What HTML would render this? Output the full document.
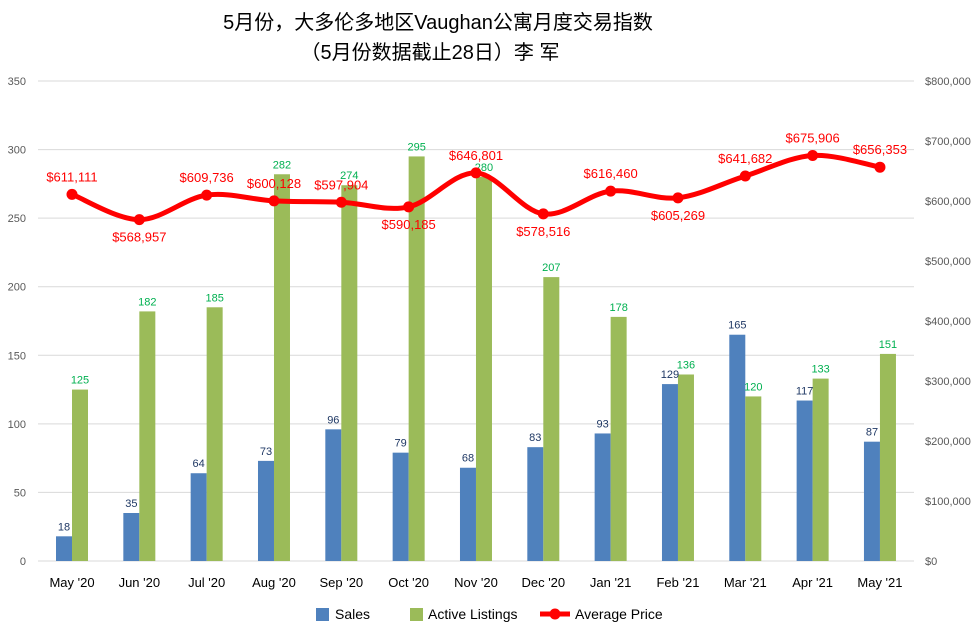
<!DOCTYPE html>
<html><head><meta charset="utf-8"><style>
body{margin:0;background:#fff;}
svg text{font-family:"Liberation Sans","Noto Sans CJK SC",sans-serif;}
</style></head><body>
<svg id="s" width="977" height="638" xmlns="http://www.w3.org/2000/svg">
<rect x="0" y="0" width="977" height="638" fill="#fff"/>
<text x="438" y="29" font-size="20" text-anchor="middle" fill="#000" style="font-family:'Liberation Sans','Noto Sans CJK SC',sans-serif">5月份，大多伦多地区Vaughan公寓月度交易指数</text>
<text x="430" y="59" font-size="20" text-anchor="middle" fill="#000" style="font-family:'Liberation Sans','Noto Sans CJK SC',sans-serif">（5月份数据截止28日）李 军</text>
<g id="g"></g>
</svg>
<script>
var g=document.getElementById('g'),h='';
var y0=561,k=480/350;
for(var i=0;i<=7;i++){var y=y0-i*50*k;h+='<line x1="38" x2="914" y1="'+y+'" y2="'+y+'" stroke="#d9d9d9" stroke-width="1"/>';
h+='<text x="26" y="'+(y+4)+'" font-size="11" text-anchor="end" fill="#595959">'+(i*50)+'</text>';}
for(var i=0;i<=8;i++){var y=y0-i*60;var v=i==0?'$0':'$'+(i*100)+',000';h+='<text x="925" y="'+(y+4)+'" font-size="11" fill="#595959">'+v+'</text>';}
var cats=["May '20","Jun '20","Jul '20","Aug '20","Sep '20","Oct '20","Nov '20","Dec '20","Jan '21","Feb '21","Mar '21","Apr '21","May '21"];
var s=[18,35,64,73,96,79,68,83,93,129,165,117,87];
var a=[125,182,185,282,274,295,280,207,178,136,120,133,151];
var p=[611111,568957,609736,600128,597904,590185,646801,578516,616460,605269,641682,675906,656353];
var pos=[1,0,1,1,1,0,1,0,1,0,1,1,1];
var st=67.33,cx0=72,pts=[];
for(var i=0;i<13;i++){var c=cx0+i*st;
var hs=s[i]*k,ha=a[i]*k;
h+='<rect x="'+(c-16)+'" y="'+(y0-hs)+'" width="16" height="'+hs+'" fill="#4f81bd"/>';
h+='<rect x="'+c+'" y="'+(y0-ha)+'" width="16" height="'+ha+'" fill="#9bbb59"/>';
h+='<text x="'+(c-8)+'" y="'+(y0-hs-6)+'" font-size="11" text-anchor="middle" fill="#1f3864">'+s[i]+'</text>';
h+='<text x="'+(c+8)+'" y="'+(y0-ha-6)+'" font-size="11" text-anchor="middle" fill="#00b050">'+a[i]+'</text>';
h+='<text x="'+c+'" y="587" font-size="13" text-anchor="middle" fill="#000">'+cats[i]+'</text>';
pts.push([c,y0-p[i]*0.0006]);}
var d='M'+pts[0][0]+','+pts[0][1];
for(var i=0;i<12;i++){var p0=pts[Math.max(i-1,0)],p1=pts[i],p2=pts[i+1],p3=pts[Math.min(i+2,12)];
d+=' C'+(p1[0]+(p2[0]-p0[0])/6)+','+(p1[1]+(p2[1]-p0[1])/6)+' '+(p2[0]-(p3[0]-p1[0])/6)+','+(p2[1]-(p3[1]-p1[1])/6)+' '+p2[0]+','+p2[1];}
h+='<path d="'+d+'" fill="none" stroke="#ff0000" stroke-width="5"/>';
for(var i=0;i<13;i++){h+='<circle cx="'+pts[i][0]+'" cy="'+pts[i][1]+'" r="5.5" fill="#ff0000"/>';
var ty=pos[i]?pts[i][1]-13:pts[i][1]+22;
h+='<text x="'+pts[i][0]+'" y="'+ty+'" font-size="13" text-anchor="middle" fill="#ff0000">$'+p[i].toLocaleString('en-US')+'</text>';}
h+='<rect x="316" y="608" width="13" height="13" fill="#4f81bd"/><text x="335" y="619" font-size="14" fill="#000">Sales</text>';
h+='<rect x="410" y="608" width="13" height="13" fill="#9bbb59"/><text x="428" y="619" font-size="14" fill="#000">Active Listings</text>';
h+='<line x1="540" x2="570" y1="614" y2="614" stroke="#ff0000" stroke-width="5"/><circle cx="555" cy="614" r="5.5" fill="#ff0000"/><text x="575" y="619" font-size="14" fill="#000">Average Price</text>';
g.innerHTML=h;
</script>
</body></html>
